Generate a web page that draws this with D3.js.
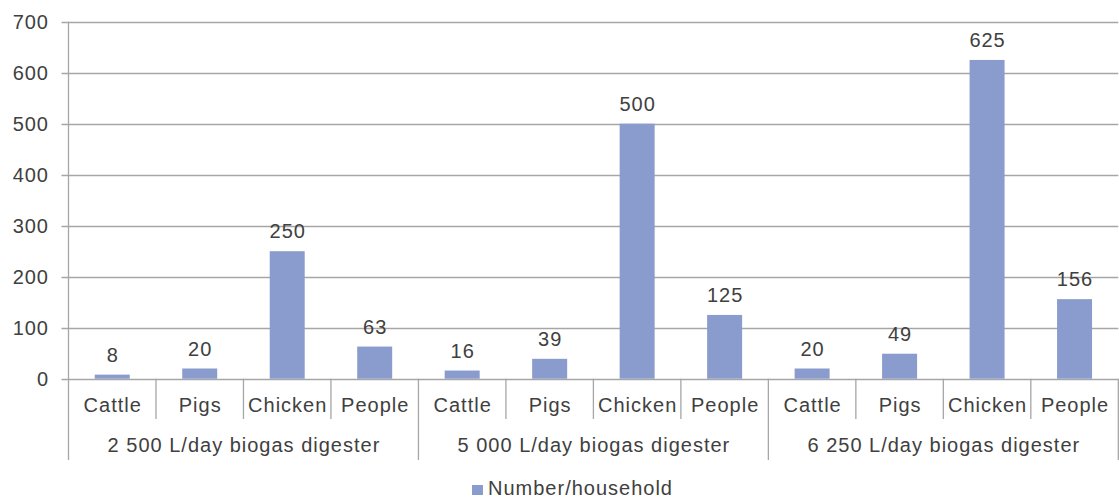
<!DOCTYPE html>
<html>
<head>
<meta charset="utf-8">
<script src="https://cdn.jsdelivr.net/npm/d3@7"></script>
<style>
  body { margin: 0; background: #fff; }
  text { font-family: "Liberation Sans", Arial, sans-serif; fill: #404040; letter-spacing: 1px; }
</style>
</head>
<body>
<script>
const width = 1119;
const height = 500;

// data
const groups = ["2 500 L/day biogas digester", "5 000 L/day biogas digester", "6 250 L/day biogas digester"];
const categories = ["Cattle", "Pigs", "Chicken", "People"];
const values = [
  [8, 20, 250, 63],
  [16, 39, 500, 125],
  [20, 49, 625, 156],
];
const yTicks = [0, 100, 200, 300, 400, 500, 600, 700];
const seriesName = "Number/household";

const margin = { left: 68.5, right: 0.7, top: 21.7, bottom: 121.3 };
const fontSize = 20;
const barColor = "#8a9cce";
const lineColor = "#a6a6a6";

const rows = [];
groups.forEach((g, gi) => {
  categories.forEach((c, ci) => {
    rows.push({ key: gi + "-" + ci, group: g, cat: c, value: values[gi][ci] });
  });
});

const svg = d3.select("body").append("svg")
  .attr("width", width)
  .attr("height", height);

const x = d3.scaleBand()
  .domain(rows.map(d => d.key))
  .range([margin.left, width - margin.right])
  .padding(0);

const y = d3.scaleLinear()
  .domain([0, 700])
  .range([height - margin.bottom, margin.top]);

const y0 = y(0);

// gridlines
svg.append("g")
  .selectAll("line")
  .data(yTicks)
  .join("line")
  .attr("x1", margin.left - 7)
  .attr("x2", width - margin.right)
  .attr("y1", d => Math.round(y(d)) + 0.5)
  .attr("y2", d => Math.round(y(d)) + 0.5)
  .attr("stroke", lineColor)
  .attr("stroke-width", 1.3);

// y labels
svg.append("g")
  .selectAll("text")
  .data(yTicks)
  .join("text")
  .attr("x", 49)
  .attr("y", d => y(d))
  .attr("dy", "0.36em")
  .attr("text-anchor", "end")
  .attr("font-size", fontSize)
  .text(d => d);

// y axis line
svg.append("line")
  .attr("x1", margin.left).attr("x2", margin.left)
  .attr("y1", y(700)).attr("y2", 460)
  .attr("stroke", lineColor).attr("stroke-width", 1.3);

// bars
const barW = x.bandwidth() * 0.4;
svg.append("g")
  .selectAll("rect")
  .data(rows)
  .join("rect")
  .attr("x", d => x(d.key) + (x.bandwidth() - barW) / 2)
  .attr("width", barW)
  .attr("y", d => y(d.value))
  .attr("height", d => y0 - y(d.value))
  .attr("fill", barColor);

// value labels
svg.append("g")
  .selectAll("text")
  .data(rows)
  .join("text")
  .attr("x", d => x(d.key) + x.bandwidth() / 2 + 0.5)
  .attr("y", d => y(d.value) - 13)
  .attr("text-anchor", "middle")
  .attr("font-size", fontSize)
  .text(d => d.value);

// category separators
svg.append("g")
  .selectAll("line")
  .data(rows)
  .join("line")
  .attr("x1", d => x(d.key) + x.bandwidth())
  .attr("x2", d => x(d.key) + x.bandwidth())
  .attr("y1", y0)
  .attr("y2", (d, i) => (i % 4 === 3) ? 460 : 419)
  .attr("stroke", lineColor).attr("stroke-width", 1.3);

// category labels
svg.append("g")
  .selectAll("text")
  .data(rows)
  .join("text")
  .attr("x", d => x(d.key) + x.bandwidth() / 2 + 0.5)
  .attr("y", 412)
  .attr("text-anchor", "middle")
  .attr("font-size", fontSize)
  .text(d => d.cat);

// group labels
svg.append("g")
  .selectAll("text")
  .data(groups)
  .join("text")
  .attr("x", (g, gi) => (x(gi + "-0") + x(gi + "-3") + x.bandwidth()) / 2 + 0.5)
  .attr("y", 452)
  .attr("text-anchor", "middle")
  .attr("font-size", fontSize)
  .text(d => d);

// legend
const legend = svg.append("g").attr("transform", "translate(472,485)");
legend.append("rect")
  .attr("width", 11).attr("height", 10)
  .attr("fill", barColor);
legend.append("text")
  .attr("x", 16)
  .attr("y", 10)
  .attr("font-size", fontSize)
  .text(seriesName);
</script>
</body>
</html>
